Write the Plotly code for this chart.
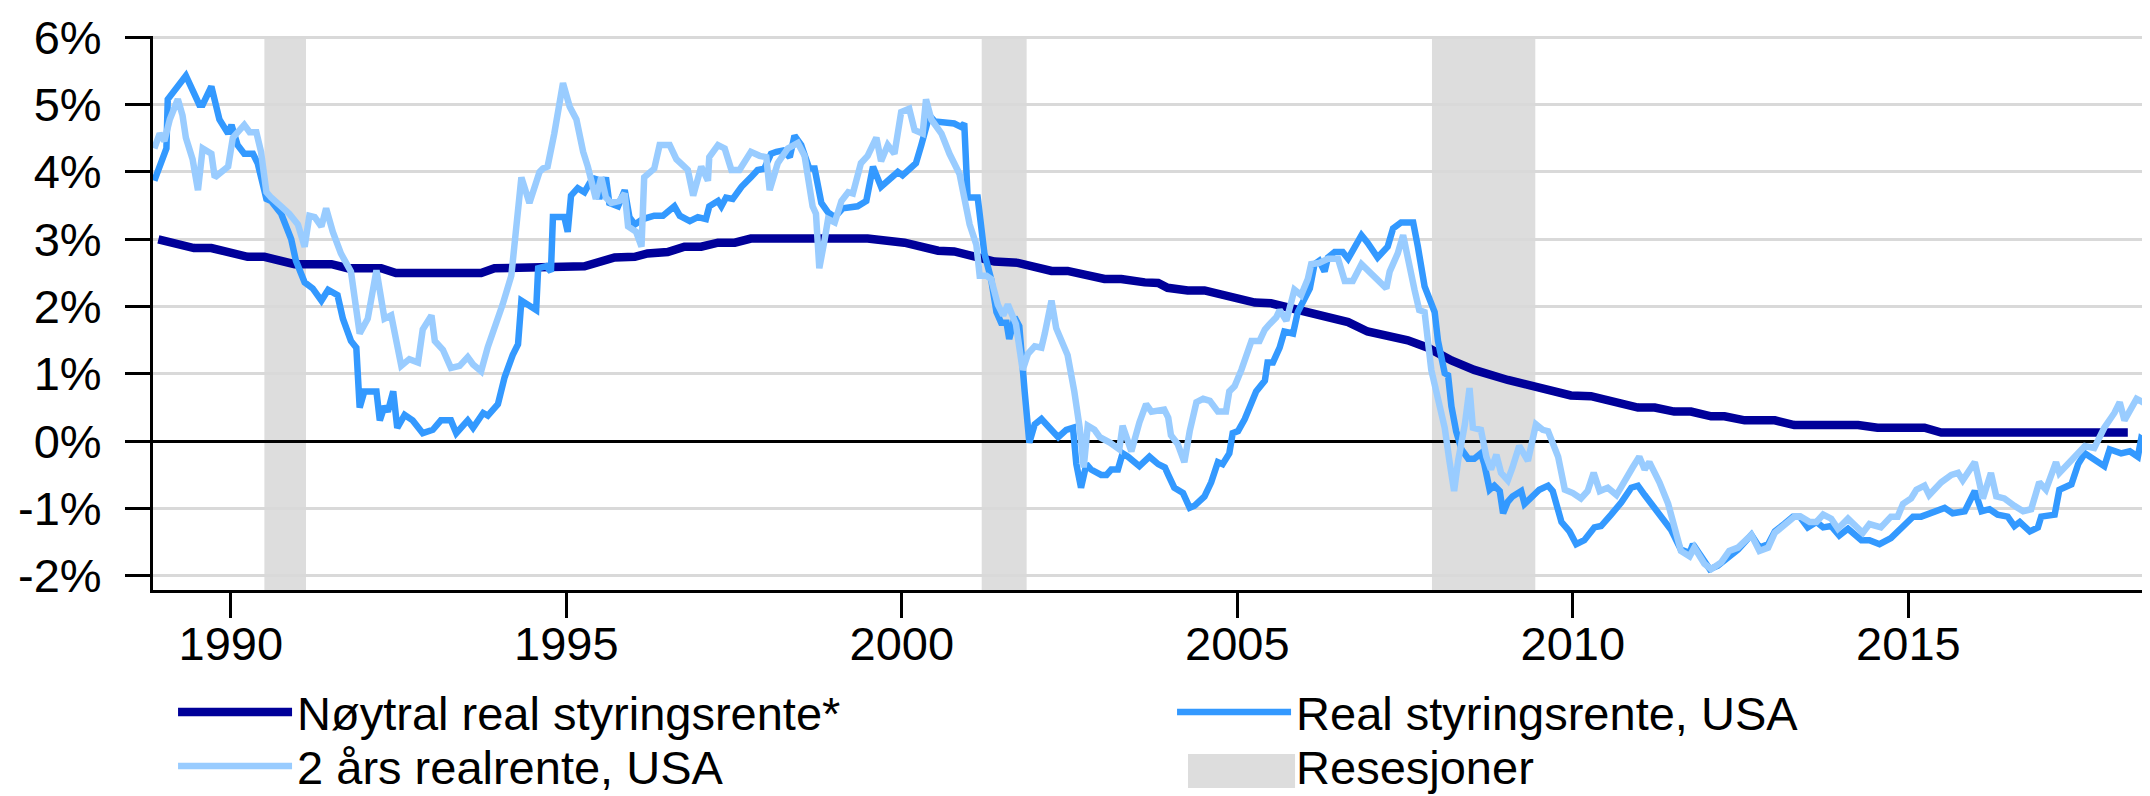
import plotly.graph_objects as go

# ---------------- data (decimal years, percent) ----------------
neutral_x = [1988.92, 1989.20, 1989.45, 1989.71, 1989.95, 1990.25, 1990.50, 1990.75, 1990.95, 1991.50,
             1991.74, 1992.24, 1992.46, 1993.73, 1993.93, 1995.27, 1995.72, 1996.02, 1996.21, 1996.51,
             1996.76, 1997.01, 1997.26, 1997.51, 1997.75, 1999.49, 1999.79, 2000.04, 2000.54, 2000.78,
             2001.38, 2001.73, 2002.23, 2002.47, 2003.02, 2003.27, 2003.62, 2003.82, 2003.96, 2004.26,
             2004.51, 2005.26, 2005.50, 2006.05, 2006.65, 2006.94, 2007.54, 2007.84, 2008.19, 2008.53,
             2009.03, 2009.97, 2010.27, 2010.97, 2011.22, 2011.51, 2011.76, 2012.06, 2012.26, 2012.56,
             2013.01, 2013.30, 2014.25, 2014.54, 2015.24, 2015.49, 2018.27]
neutral_y = [3.00, 2.93, 2.87, 2.87, 2.80, 2.74, 2.74, 2.68, 2.63, 2.63,
             2.57, 2.57, 2.50, 2.50, 2.57, 2.60, 2.73, 2.74, 2.79, 2.81,
             2.89, 2.89, 2.95, 2.95, 3.01, 3.01, 2.96, 2.95, 2.83, 2.82,
             2.67, 2.65, 2.53, 2.53, 2.41, 2.41, 2.36, 2.35, 2.28, 2.24,
             2.24, 2.06, 2.05, 1.91, 1.77, 1.63, 1.50, 1.39, 1.20, 1.06,
             0.91, 0.68, 0.67, 0.50, 0.50, 0.44, 0.44, 0.37, 0.37, 0.31,
             0.31, 0.24, 0.24, 0.20, 0.20, 0.13, 0.13]

policy_x = [1988.86, 1988.96, 1989.04, 1989.06, 1989.19, 1989.33, 1989.53, 1989.58, 1989.71, 1989.83,
            1989.96, 1990.01, 1990.10, 1990.20, 1990.33, 1990.40, 1990.53, 1990.60, 1990.75, 1990.90,
            1990.97, 1991.10, 1991.22, 1991.35, 1991.45, 1991.59, 1991.67, 1991.79, 1991.87, 1991.92,
            1991.99, 1992.17, 1992.22, 1992.29, 1992.34, 1992.42, 1992.48, 1992.59, 1992.71, 1992.86,
            1993.01, 1993.13, 1993.28, 1993.36, 1993.53, 1993.61, 1993.76, 1993.83, 1993.98, 1994.08,
            1994.20, 1994.28, 1994.33, 1994.43, 1994.55, 1994.58, 1994.70, 1994.77, 1994.80, 1994.97,
            1995.02, 1995.07, 1995.17, 1995.27, 1995.35, 1995.44, 1995.49, 1995.59, 1995.64, 1995.77,
            1995.87, 1995.94, 1996.02, 1996.14, 1996.31, 1996.44, 1996.61, 1996.69, 1996.84, 1996.96,
            1997.08, 1997.13, 1997.26, 1997.31, 1997.38, 1997.48, 1997.61, 1997.75, 1997.85, 1997.95,
            1998.05, 1998.13, 1998.23, 1998.33, 1998.40, 1998.50, 1998.62, 1998.70, 1998.80, 1998.90,
            1999.00, 1999.12, 1999.34, 1999.47, 1999.57, 1999.69, 1999.84, 1999.94, 2000.01, 2000.11,
            2000.21, 2000.29, 2000.34, 2000.41, 2000.49, 2000.61, 2000.78, 2000.88, 2000.93, 2000.98,
            2001.13, 2001.23, 2001.33, 2001.41, 2001.48, 2001.56, 2001.60, 2001.68, 2001.75, 2001.83,
            2001.90, 2001.98, 2002.08, 2002.20, 2002.33, 2002.45, 2002.55, 2002.60, 2002.67, 2002.75,
            2002.82, 2002.97, 2003.05, 2003.12, 2003.22, 2003.29, 2003.37, 2003.54, 2003.69, 2003.82,
            2003.92, 2003.97, 2004.06, 2004.19, 2004.29, 2004.36, 2004.51, 2004.61, 2004.71, 2004.78,
            2004.88, 2004.93, 2005.01, 2005.11, 2005.21, 2005.28, 2005.41, 2005.45, 2005.53, 2005.63,
            2005.70, 2005.83, 2005.90, 2006.00, 2006.08, 2006.15, 2006.22, 2006.30, 2006.35, 2006.45,
            2006.57, 2006.65, 2006.75, 2006.85, 2006.94, 2007.09, 2007.24, 2007.32, 2007.44, 2007.62,
            2007.69, 2007.79, 2007.94, 2007.99, 2008.09, 2008.14, 2008.19, 2008.26, 2008.34, 2008.44,
            2008.53, 2008.63, 2008.68, 2008.76, 2008.83, 2008.91, 2008.96, 2009.03, 2009.10, 2009.23,
            2009.28, 2009.40, 2009.50, 2009.63, 2009.70, 2009.83, 2009.95, 2010.05, 2010.17, 2010.32,
            2010.42, 2010.57, 2010.72, 2010.87, 2010.97, 2011.07, 2011.17, 2011.32, 2011.46, 2011.61,
            2011.74, 2011.79, 2011.91, 2012.04, 2012.16, 2012.31, 2012.46, 2012.66, 2012.78, 2012.91,
            2013.01, 2013.15, 2013.28, 2013.38, 2013.50, 2013.63, 2013.73, 2013.85, 2013.97, 2014.10,
            2014.30, 2014.42, 2014.57, 2014.74, 2014.89, 2015.07, 2015.19, 2015.37, 2015.54, 2015.66,
            2015.84, 2015.99, 2016.09, 2016.21, 2016.33, 2016.48, 2016.58, 2016.66, 2016.81, 2016.93,
            2016.98, 2017.18, 2017.25, 2017.43, 2017.53, 2017.63, 2017.77, 2017.92, 2018.00, 2018.17,
            2018.30, 2018.42, 2018.47, 2018.57, 2018.67, 2018.72]
policy_y = [3.87, 4.11, 4.35, 5.08, 5.24, 5.43, 5.00, 5.00, 5.27, 4.78,
            4.57, 4.70, 4.40, 4.27, 4.27, 4.13, 3.60, 3.57, 3.38, 3.00,
            2.68, 2.36, 2.27, 2.09, 2.25, 2.17, 1.82, 1.49, 1.39, 0.50,
            0.74, 0.74, 0.31, 0.52, 0.44, 0.74, 0.20, 0.39, 0.31, 0.12,
            0.17, 0.31, 0.31, 0.12, 0.31, 0.20, 0.42, 0.38, 0.55, 0.95,
            1.28, 1.44, 2.09, 2.03, 1.95, 2.57, 2.60, 2.52, 3.33, 3.33,
            3.11, 3.65, 3.76, 3.70, 3.84, 3.92, 3.60, 3.92, 3.54, 3.49,
            3.73, 3.33, 3.22, 3.30, 3.35, 3.35, 3.49, 3.35, 3.27, 3.33,
            3.30, 3.49, 3.57, 3.49, 3.62, 3.60, 3.78, 3.92, 4.03, 4.05,
            4.27, 4.30, 4.32, 4.22, 4.54, 4.40, 4.05, 4.05, 3.54, 3.40,
            3.33, 3.46, 3.49, 3.57, 4.08, 3.78, 3.92, 4.00, 3.95, 4.05,
            4.13, 4.40, 4.57, 4.84, 4.75, 4.73, 4.72, 4.67, 4.72, 3.62,
            3.62, 2.79, 2.41, 1.92, 1.76, 1.76, 1.52, 1.84, 1.71, 0.74,
            -0.02, 0.25, 0.33, 0.20, 0.06, 0.17, 0.20, -0.34, -0.69, -0.34,
            -0.42, -0.50, -0.50, -0.42, -0.42, -0.18, -0.23, -0.37, -0.23, -0.34,
            -0.39, -0.50, -0.69, -0.77, -0.99, -0.96, -0.82, -0.61, -0.31, -0.34,
            -0.18, 0.12, 0.15, 0.33, 0.58, 0.74, 0.90, 1.17, 1.17, 1.39,
            1.63, 1.60, 1.92, 2.09, 2.27, 2.63, 2.68, 2.52, 2.73, 2.81,
            2.81, 2.71, 2.87, 3.06, 2.95, 2.73, 2.89, 3.16, 3.25, 3.25,
            2.89, 2.30, 1.92, 1.49, 1.01, 0.98, 0.52, 0.15, -0.12, -0.26,
            -0.26, -0.18, -0.34, -0.72, -0.66, -0.74, -1.07, -0.90, -0.82, -0.74,
            -0.93, -0.82, -0.72, -0.66, -0.74, -1.20, -1.34, -1.53, -1.47, -1.28,
            -1.26, -1.09, -0.91, -0.69, -0.66, -0.80, -0.93, -1.12, -1.31, -1.61,
            -1.66, -1.53, -1.69, -1.90, -1.85, -1.74, -1.61, -1.39, -1.58, -1.53,
            -1.34, -1.23, -1.12, -1.12, -1.28, -1.20, -1.28, -1.26, -1.40, -1.30,
            -1.47, -1.47, -1.53, -1.44, -1.28, -1.12, -1.12, -1.04, -0.99, -1.07,
            -1.04, -0.74, -1.04, -1.01, -1.09, -1.12, -1.26, -1.20, -1.34, -1.28,
            -1.12, -1.09, -0.72, -0.64, -0.34, -0.18, -0.26, -0.37, -0.12, -0.18,
            -0.15, -0.23, 0.04, -0.02, 0.28, 0.31]

twoyear_x = [1988.86, 1988.94, 1989.01, 1989.09, 1989.21, 1989.28, 1989.33, 1989.43, 1989.51, 1989.58,
             1989.71, 1989.76, 1989.96, 1990.03, 1990.20, 1990.28, 1990.38, 1990.45, 1990.53, 1990.60,
             1990.75, 1990.87, 1991.00, 1991.10, 1991.17, 1991.25, 1991.35, 1991.42, 1991.52, 1991.64,
             1991.79, 1991.92, 1992.04, 1992.17, 1992.29, 1992.39, 1992.54, 1992.66, 1992.79, 1992.86,
             1992.99, 1993.04, 1993.16, 1993.28, 1993.41, 1993.53, 1993.61, 1993.73, 1993.83, 1993.93,
             1994.05, 1994.18, 1994.25, 1994.33, 1994.45, 1994.60, 1994.65, 1994.72, 1994.82, 1994.95,
             1995.05, 1995.15, 1995.25, 1995.32, 1995.44, 1995.52, 1995.59, 1995.67, 1995.79, 1995.87,
             1995.92, 1996.04, 1996.12, 1996.16, 1996.31, 1996.39, 1996.54, 1996.64, 1996.81, 1996.89,
             1997.01, 1997.11, 1997.13, 1997.26, 1997.36, 1997.46, 1997.58, 1997.75, 1997.88, 1997.98,
             1998.03, 1998.15, 1998.30, 1998.45, 1998.55, 1998.67, 1998.72, 1998.77, 1998.85, 1998.90,
             1999.00, 1999.10, 1999.20, 1999.27, 1999.39, 1999.49, 1999.62, 1999.69, 1999.79, 1999.89,
             1999.99, 2000.11, 2000.19, 2000.31, 2000.36, 2000.44, 2000.59, 2000.71, 2000.86, 2000.93,
             2001.01, 2001.11, 2001.16, 2001.26, 2001.33, 2001.43, 2001.51, 2001.58, 2001.70, 2001.80,
             2001.88, 2001.98, 2002.08, 2002.13, 2002.23, 2002.30, 2002.47, 2002.57, 2002.65, 2002.71,
             2002.77, 2002.87, 2002.95, 2003.10, 2003.24, 2003.29, 2003.42, 2003.54, 2003.64, 2003.72,
             2003.91, 2003.97, 2004.01, 2004.11, 2004.21, 2004.29, 2004.39, 2004.49, 2004.59, 2004.71,
             2004.83, 2004.88, 2004.96, 2005.06, 2005.16, 2005.21, 2005.33, 2005.41, 2005.48, 2005.58,
             2005.63, 2005.73, 2005.78, 2005.85, 2005.95, 2006.05, 2006.10, 2006.22, 2006.35, 2006.50,
             2006.60, 2006.72, 2006.85, 2007.04, 2007.22, 2007.27, 2007.39, 2007.47, 2007.54, 2007.64,
             2007.71, 2007.79, 2007.89, 2007.99, 2008.09, 2008.16, 2008.23, 2008.29, 2008.39, 2008.46,
             2008.51, 2008.63, 2008.71, 2008.78, 2008.86, 2008.93, 2009.03, 2009.10, 2009.20, 2009.33,
             2009.45, 2009.55, 2009.63, 2009.78, 2009.88, 2010.00, 2010.12, 2010.22, 2010.31, 2010.40,
             2010.52, 2010.65, 2010.77, 2010.89, 2010.99, 2011.07, 2011.14, 2011.29, 2011.42, 2011.52,
             2011.61, 2011.74, 2011.81, 2011.96, 2012.06, 2012.21, 2012.33, 2012.46, 2012.56, 2012.66,
             2012.78, 2012.91, 2013.01, 2013.15, 2013.30, 2013.40, 2013.53, 2013.63, 2013.73, 2013.85,
             2013.95, 2014.10, 2014.32, 2014.42, 2014.59, 2014.74, 2014.84, 2014.92, 2015.04, 2015.12,
             2015.24, 2015.31, 2015.49, 2015.64, 2015.74, 2015.81, 2015.99, 2016.11, 2016.23, 2016.31,
             2016.43, 2016.58, 2016.71, 2016.83, 2016.95, 2017.05, 2017.20, 2017.25, 2017.43, 2017.63,
             2017.77, 2017.92, 2018.07, 2018.15, 2018.22, 2018.40, 2018.55, 2018.72]
twoyear_y = [4.35, 4.57, 4.46, 4.78, 5.08, 4.84, 4.51, 4.19, 3.73, 4.35,
             4.27, 3.92, 4.08, 4.51, 4.70, 4.59, 4.59, 4.30, 3.70, 3.62,
             3.49, 3.38, 3.22, 2.89, 3.35, 3.33, 3.19, 3.46, 3.11, 2.79,
             2.52, 1.60, 1.82, 2.54, 1.82, 1.87, 1.12, 1.22, 1.17, 1.66,
             1.87, 1.49, 1.36, 1.09, 1.12, 1.25, 1.14, 1.04, 1.40, 1.66,
             2.03, 2.46, 3.11, 3.92, 3.54, 4.00, 4.05, 4.08, 4.57, 5.32,
             4.97, 4.78, 4.30, 4.08, 3.60, 3.92, 3.62, 3.54, 3.57, 3.68,
             3.19, 3.11, 2.89, 3.92, 4.05, 4.40, 4.40, 4.19, 4.03, 3.65,
             4.08, 3.87, 4.22, 4.40, 4.35, 4.03, 4.03, 4.30, 4.24, 4.22,
             3.73, 4.13, 4.35, 4.43, 4.24, 3.49, 3.38, 2.57, 3.00, 3.30,
             3.25, 3.57, 3.70, 3.68, 4.13, 4.24, 4.51, 4.16, 4.40, 4.27,
             4.89, 4.94, 4.62, 4.57, 5.08, 4.78, 4.57, 4.27, 3.97, 3.60,
             3.22, 2.92, 2.46, 2.46, 2.41, 2.03, 1.87, 2.03, 1.74, 1.06,
             1.30, 1.41, 1.39, 1.60, 2.09, 1.68, 1.28, 0.74, 0.20, -0.39,
             0.23, 0.17, 0.06, -0.02, -0.12, 0.23, -0.15, 0.28, 0.55, 0.44,
             0.47, 0.35, 0.09, -0.04, -0.31, 0.15, 0.58, 0.63, 0.60, 0.44,
             0.44, 0.74, 0.82, 1.06, 1.33, 1.49, 1.49, 1.66, 1.74, 1.84,
             1.95, 1.79, 1.98, 2.25, 2.17, 2.41, 2.63, 2.65, 2.71, 2.71,
             2.38, 2.38, 2.63, 2.44, 2.27, 2.52, 2.79, 3.06, 2.68, 2.25,
             1.95, 1.92, 1.06, 0.58, 0.20, -0.29, -0.74, -0.29, 0.25, 0.79,
             0.20, 0.17, -0.23, -0.42, -0.20, -0.47, -0.58, -0.39, -0.07, -0.29,
             0.25, 0.17, 0.15, -0.23, -0.72, -0.77, -0.85, -0.74, -0.47, -0.74,
             -0.69, -0.80, -0.58, -0.39, -0.23, -0.42, -0.31, -0.61, -0.93, -1.31,
             -1.63, -1.71, -1.58, -1.82, -1.90, -1.80, -1.63, -1.58, -1.47, -1.39,
             -1.63, -1.58, -1.36, -1.23, -1.12, -1.12, -1.20, -1.20, -1.09, -1.15,
             -1.30, -1.15, -1.36, -1.23, -1.28, -1.12, -1.12, -0.93, -0.85, -0.72,
             -0.66, -0.80, -0.61, -0.50, -0.47, -0.58, -0.31, -0.85, -0.47, -0.82,
             -0.85, -0.96, -1.04, -1.01, -0.61, -0.72, -0.31, -0.47, -0.29, -0.07,
             -0.10, 0.20, 0.42, 0.58, 0.31, 0.63, 0.55, 0.82]

recession_start = [1990.50, 2001.19, 2007.90]
recession_end = [1991.12, 2001.86, 2009.44]

year_ticks = [1990, 1995, 2000, 2005, 2010, 2015]
pct_ticks = [-2, -1, 0, 1, 2, 3, 4, 5, 6]
pct_labels = ["-2%", "-1%", "0%", "1%", "2%", "3%", "4%", "5%", "6%"]

names = ["Nøytral real styringsrente*", "Real styringsrente, USA", "2 års realrente, USA", "Resesjoner"]

# ---------------- style ----------------
NAVY = "#000099"
MID = "#3399ff"
LIGHT = "#99ccff"
GREY = "#dddddd"
FONT = "Liberation Sans, Arial, sans-serif"

fig = go.Figure()
fig.add_trace(go.Scatter(x=neutral_x, y=neutral_y, mode="lines", name=names[0],
                         line=dict(color=NAVY, width=8.5), legend="legend"))
fig.add_trace(go.Scatter(x=policy_x, y=policy_y, mode="lines", name=names[1],
                         line=dict(color=MID, width=6.5), legend="legend"))
fig.add_trace(go.Scatter(x=twoyear_x, y=twoyear_y, mode="lines", name=names[2],
                         line=dict(color=LIGHT, width=6.5), legend="legend2"))
# legend entry for the recession bands (its swatch is drawn as a shape below)
fig.add_trace(go.Scatter(x=[None], y=[None], mode="lines", name=names[3],
                         line=dict(color="rgba(0,0,0,0)", width=0), legend="legend2",
                         hoverinfo="skip"))

# recession bands, from the recession arrays on the x axis scale
for s, e in zip(recession_start, recession_end):
    fig.add_shape(type="rect", xref="x", yref="y domain", x0=s, x1=e, y0=0, y1=1,
                  fillcolor=GREY, line=dict(width=0), layer="below")

# legend swatch for "Resesjoner"
fig.add_shape(type="rect", xref="paper", yref="paper", x0=0.5162, x1=0.5696, y0=-0.3573, y1=-0.2959,
              fillcolor=GREY, line=dict(width=0), layer="above")

legend_common = dict(orientation="h", x=0.01, xanchor="left", yanchor="top",
                     font=dict(family=FONT, size=47, color="black"),
                     itemwidth=114, entrywidth=870, entrywidthmode="pixels",
                     bgcolor="rgba(0,0,0,0)", borderwidth=0, traceorder="normal")

fig.update_layout(
    width=2150, height=796,
    margin=dict(l=145, r=0, t=28, b=214, autoexpand=False),
    paper_bgcolor="white", plot_bgcolor="white",
    font=dict(family=FONT, size=47, color="black"),
    showlegend=True,
    legend=dict(y=-0.1534, **legend_common),
    legend2=dict(y=-0.2508, **legend_common),
    xaxis=dict(range=[1988.84, 2018.72], tickmode="array", tickvals=year_ticks,
               ticktext=[str(t) for t in year_ticks],
               showgrid=False, zeroline=False, showline=True, linecolor="black", linewidth=3,
               ticks="outside", ticklen=25, tickwidth=3, tickcolor="black",
               ticklabelstandoff=-14,
               tickfont=dict(family=FONT, size=47, color="black")),
    yaxis=dict(range=[-2.21, 6.02], tickmode="array", tickvals=pct_ticks, ticktext=pct_labels,
               showgrid=True, gridcolor="#d9d9d9", gridwidth=3,
               zeroline=True, zerolinecolor="black", zerolinewidth=3,
               showline=True, linecolor="black", linewidth=3,
               ticks="outside", ticklen=25, tickwidth=3, tickcolor="black",
               ticklabelstandoff=14,
               tickfont=dict(family=FONT, size=47, color="black")),
)

fig.write_html("out.html")
